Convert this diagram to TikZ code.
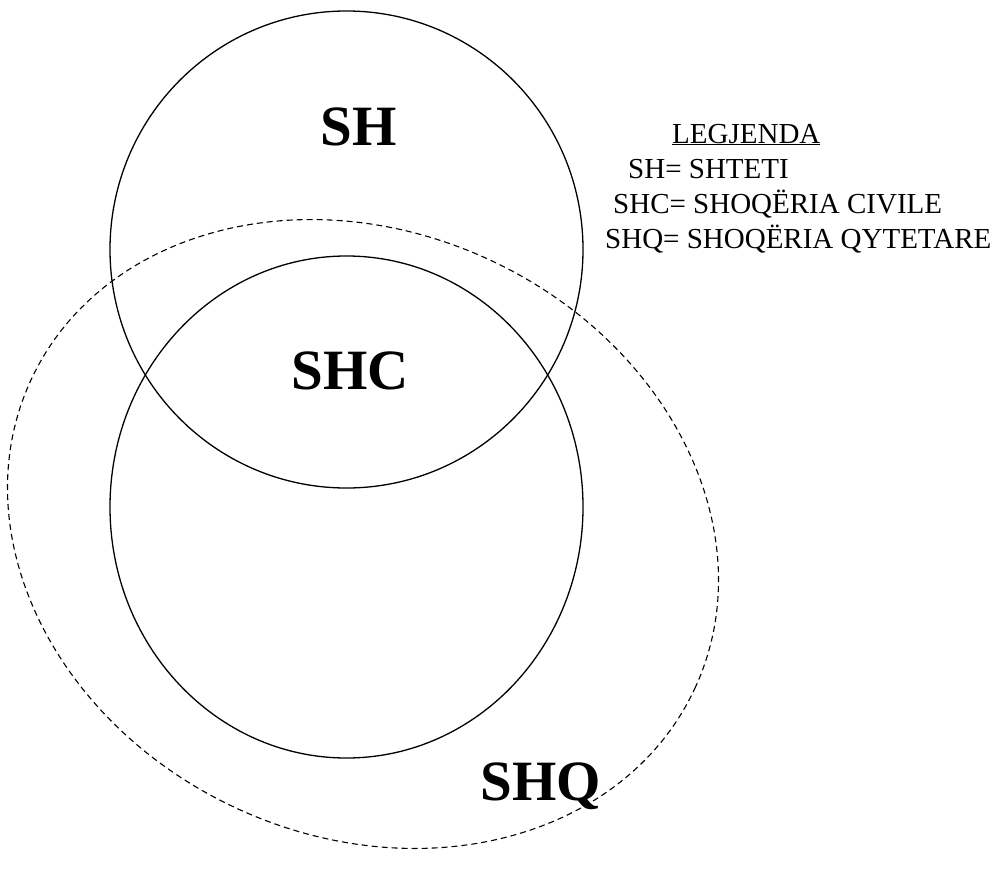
\documentclass[tikz,border=0pt]{standalone}
\usepackage{fontspec}
\setmainfont{Liberation Serif}
\usepackage{tikz}
\usetikzlibrary{shapes.geometric}
\tikzstyle{ring} = [draw, ellipse, inner sep=0pt, line width=1.3pt]
\tikzstyle{big} = [inner sep=0pt, anchor=base, font=\fontsize{57}{57}\selectfont\bfseries]
\tikzstyle{legend} = [inner sep=0pt, anchor=base west, font=\fontsize{29}{35}\selectfont]

\begin{document}
\begin{tikzpicture}[x=1pt, y=-1pt]
    \useasboundingbox (0,0) rectangle (1006,870);
    \draw (346.5,249.5) node[ring, minimum width=473pt, minimum height=477pt] (sh) {};
    \draw (346.5,507) node[ring, minimum width=473pt, minimum height=502pt] (shc) {};
    \draw (363,534) node[ring, dashed, line width=1.1pt, dash pattern=on 6pt off 4pt,
        rotate=-25, minimum width=732pt, minimum height=604pt] (shq) {};
    \draw (359,145) node[big] (shlabel) {SH};
    \draw (350,389) node[big] (shclabel) {SHC};
    \draw (541,800) node[big] (shqlabel) {SHQ};
    \draw (672,143) node[legend] (leg) {\underline{LEGJENDA}};
    \draw (628,178) node[legend] (leg1) {SH= SHTETI};
    \draw (613,213) node[legend] (leg2) {SHC= SHOQËRIA CIVILE};
    \draw (605,248) node[legend] (leg3) {SHQ= SHOQËRIA QYTETARE};
\end{tikzpicture}
\end{document}
